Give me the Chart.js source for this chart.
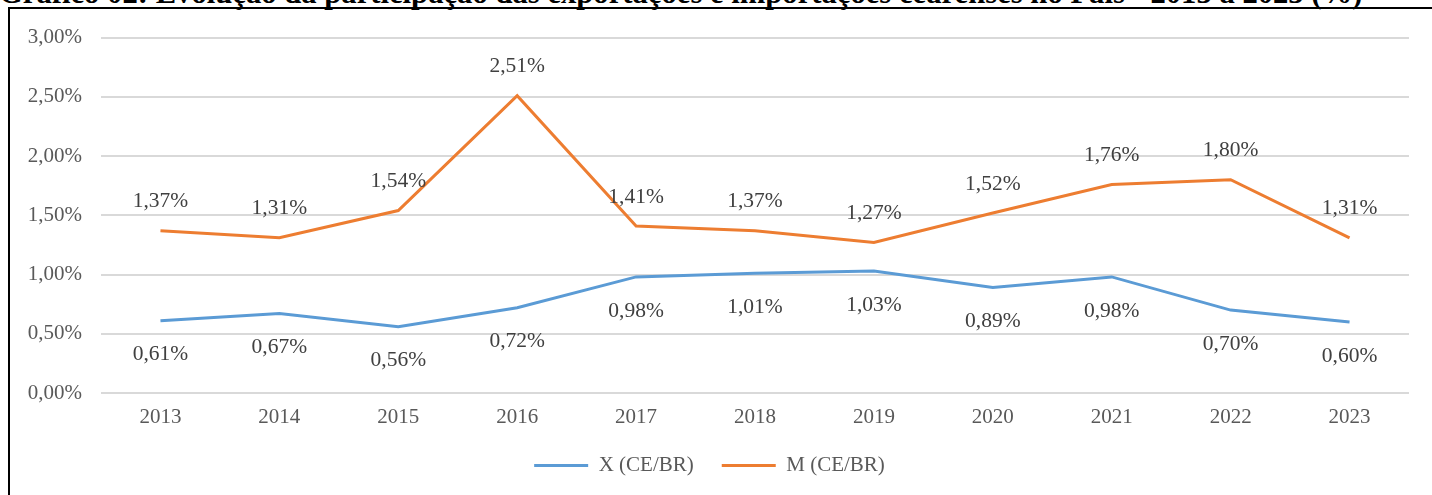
<!DOCTYPE html>
<html>
<head>
<meta charset="utf-8">
<script src="https://cdn.jsdelivr.net/npm/chart.js@4"></script>
<style>
  html, body { margin: 0; padding: 0; background: #fff; width: 1432px; height: 495px; overflow: hidden; }
  #title { position: absolute; left: -1px; top: -18px; white-space: nowrap; font-family: "Liberation Serif", serif; font-weight: bold; font-size: 24px; line-height: 24px; color: #000; }
  #frame { position: absolute; left: 8px; top: 7px; right: -4px; bottom: -4px; border-top: 2px solid #000; border-left: 2px solid #000; }
  #box { position: absolute; left: 10px; top: 6px; width: 1422px; height: 489px; }
</style>
</head>
<body>
<div id="title">Gráfico 02: Evolução da participação das exportações e importações cearenses no País - 2013 a 2023 (%)</div>
<div id="frame"></div>
<div id="box"><canvas id="chart"></canvas></div>
<script>
const years = ['2013', '2014', '2015', '2016', '2017', '2018', '2019', '2020', '2021', '2022', '2023'];
const exportShare = [0.61, 0.67, 0.56, 0.72, 0.98, 1.01, 1.03, 0.89, 0.98, 0.70, 0.60];
const importShare = [1.37, 1.31, 1.54, 2.51, 1.41, 1.37, 1.27, 1.52, 1.76, 1.80, 1.31];
const yTicks = [0, 0.5, 1, 1.5, 2, 2.5, 3];

function pct(v) {
    return v.toFixed(2).replace('.', ',') + '%';
}

// fit the title to the width it has in the picture, only its lower edge shows
const title = document.getElementById('title');
const w = title.getBoundingClientRect().width;
const fs = 24 * 1364 / w;
title.style.fontSize = fs + 'px';
title.style.lineHeight = fs + 'px';
title.style.top = (3.5 - fs * 0.8375) + 'px';

// value labels: M above the line, X below it
const valueLabels = {
    id: 'valueLabels',
    afterDatasetsDraw(chart) {
        const ctx = chart.ctx;
        ctx.save();
        ctx.font = '21.5px "Liberation Serif"';
        ctx.fillStyle = '#404040';
        ctx.textAlign = 'center';
        ctx.textBaseline = 'middle';
        chart.data.datasets.forEach(function(ds, i) {
            const meta = chart.getDatasetMeta(i);
            const dy = ds.labelAbove ? -29 : 34;
            meta.data.forEach(function(pt, j) {
                ctx.fillText(pct(ds.data[j]), pt.x, pt.y + dy);
            });
        });
        ctx.restore();
    }
};

new Chart(document.getElementById('chart'), {
    type: 'line',
    data: {
        labels: years,
        datasets: [
            {
                label: 'X (CE/BR)',
                data: exportShare,
                borderColor: '#5B9BD5',
                backgroundColor: '#5B9BD5',
                borderWidth: 3,
                pointRadius: 0,
                labelAbove: false
            },
            {
                label: 'M (CE/BR)',
                data: importShare,
                borderColor: '#ED7D31',
                backgroundColor: '#ED7D31',
                borderWidth: 3,
                pointRadius: 0,
                labelAbove: true
            }
        ]
    },
    options: {
        responsive: true,
        maintainAspectRatio: false,
        animation: false,
        layout: { padding: { top: 23, right: 23, left: 0, bottom: 9 } },
        scales: {
            x: {
                offset: true,
                grid: { display: false, drawTicks: false },
                border: { display: false },
                ticks: {
                    padding: 12,
                    color: '#595959',
                    font: { family: 'Liberation Serif', size: 21 }
                },
                afterFit: function(scale) { scale.height = 34; }
            },
            y: {
                min: 0,
                max: 3,
                afterBuildTicks: function(scale) {
                    scale.ticks = yTicks.map(function(v) { return { value: v }; });
                },
                grid: { color: '#d9d9d9', lineWidth: 2, drawTicks: false },
                border: { display: false },
                ticks: {
                    padding: 19,
                    color: '#595959',
                    font: { family: 'Liberation Serif', size: 21 },
                    callback: function(v) { return pct(v); }
                },
                afterFit: function(scale) { scale.width = 91; }
            }
        },
        plugins: {
            legend: {
                position: 'bottom',
                labels: {
                    usePointStyle: true,
                    pointStyle: 'line',
                    pointStyleWidth: 54,
                    boxHeight: 21,
                    padding: 28,
                    color: '#595959',
                    font: { family: 'Liberation Serif', size: 21 }
                }
            },
            tooltip: { enabled: false }
        }
    },
    plugins: [valueLabels]
});
</script>
</body>
</html>
